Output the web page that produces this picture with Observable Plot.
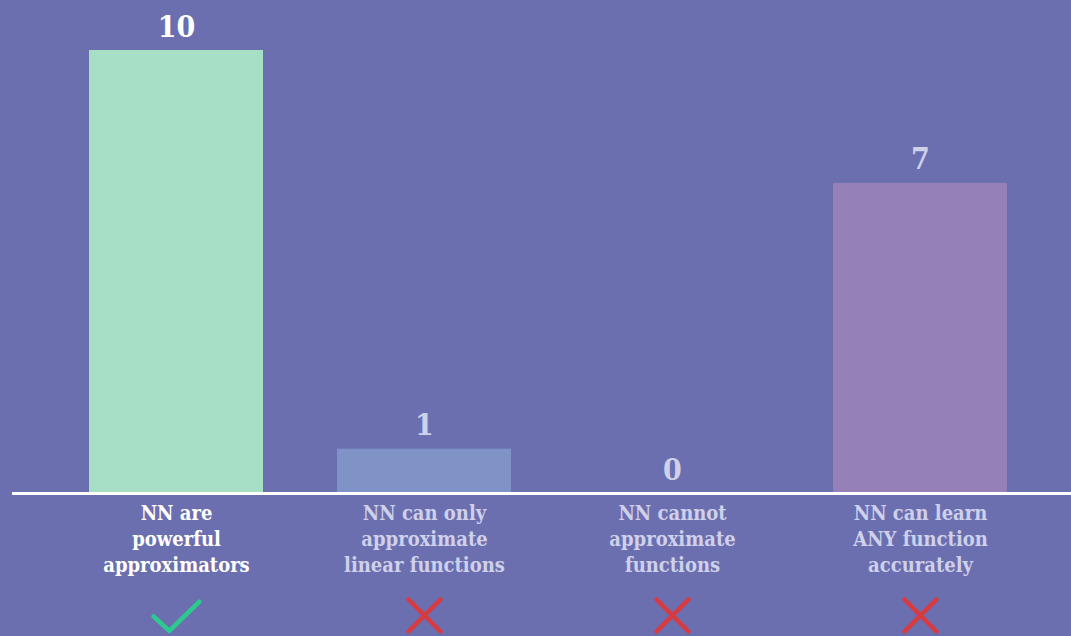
<!DOCTYPE html>
<html>
<head>
<meta charset="utf-8">
<script src="https://cdn.jsdelivr.net/npm/d3@7"></script>
<script src="https://cdn.jsdelivr.net/npm/@observablehq/plot@0.6"></script>
<style>
  html, body { margin: 0; padding: 0; background: #6b6fb0; }
  #chart svg { display: block; background: #6b6fb0; }
</style>
</head>
<body>
<div id="chart"></div>
<script>
// Poll answers: how many people picked each statement about neural networks
const statements = [
  "NN are\npowerful\napproximators",
  "NN can only\napproximate\nlinear functions",
  "NN cannot\napproximate\nfunctions",
  "NN can learn\nANY function\naccurately"
];
const votes = [10, 1, 0, 7];
const isCorrect = [true, false, false, false];

const rows = statements.map((s, i) => ({ statement: s, votes: votes[i], correct: isCorrect[i] }));

// Tick and cross drawn as stroked symbols, scaled from the dot radius
const tickSymbol = {
  draw(ctx, size) {
    const r = Math.sqrt(size / Math.PI);
    ctx.moveTo(-1.35 * r, 0.05 * r);
    ctx.lineTo(-0.42 * r, 0.9 * r);
    ctx.lineTo(1.35 * r, -0.82 * r);
  }
};
const crossSymbol = {
  draw(ctx, size) {
    const r = Math.sqrt(size / Math.PI);
    ctx.moveTo(-r, -r); ctx.lineTo(r, r);
    ctx.moveTo(r, -r); ctx.lineTo(-r, r);
  }
};

const font = "'DejaVu Serif Condensed', 'DejaVu Serif', serif";
const dim = "#cfd0ea";

const chart = Plot.plot({
  width: 1071,
  height: 636,
  marginTop: 50,
  marginBottom: 143,
  marginLeft: 51,
  marginRight: 26,
  style: { background: "#6b6fb0", fontFamily: font },
  x: { domain: statements, paddingInner: 0.3, paddingOuter: 0.15, axis: null },
  y: { domain: [0, 10], axis: null },
  color: { domain: statements, range: ["#a6dfc6", "#7f93c7", "#7f93c7", "#9580b8"] },
  marks: [
    Plot.barY(rows, { x: "statement", y: "votes", fill: "statement" }),
    Plot.ruleY([0], { stroke: "white", strokeWidth: 3, insetLeft: -39, insetRight: -26 }),
    Plot.text(rows, {
      x: "statement", y: "votes", text: d => String(d.votes),
      lineAnchor: "bottom", dy: -14,
      fontSize: 30, fontWeight: "bold",
      fill: d => d.correct ? "white" : dim
    }),
    Plot.text(rows, {
      x: "statement", y: 0, text: "statement",
      lineAnchor: "top", dy: 8, lineHeight: 1.3,
      fontSize: 20, fontWeight: "bold",
      fill: d => d.correct ? "white" : dim
    }),
    Plot.dot(rows.filter(d => d.correct), {
      x: "statement", y: 0, dy: 122, r: 17,
      symbol: tickSymbol, fill: "none", stroke: "#2bcb8e",
      strokeWidth: 4.5, strokeLinecap: "round", strokeLinejoin: "round"
    }),
    Plot.dot(rows.filter(d => !d.correct), {
      x: "statement", y: 0, dy: 122, r: 16,
      symbol: crossSymbol, fill: "none", stroke: "#d93a3f",
      strokeWidth: 4.5, strokeLinecap: "round"
    })
  ]
});
document.getElementById("chart").append(chart);
</script>
</body>
</html>
